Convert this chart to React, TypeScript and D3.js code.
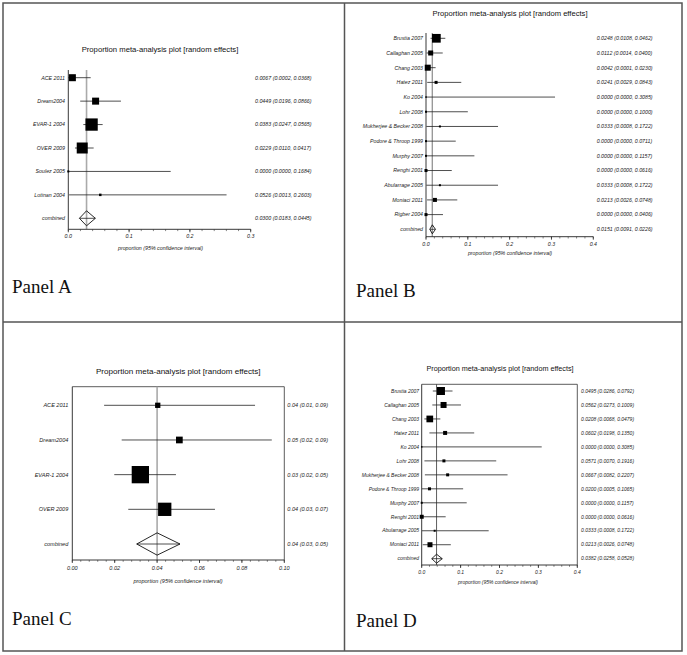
import React from "react";
import * as d3 from "d3";

// ---------- Panel A data ----------
const aStudies = ["ACE 2011", "Dream2004", "EVAR-1 2004", "OVER 2009", "Soulez 2005", "Lotinan 2004"];
const aEst = [0.0067, 0.0449, 0.0383, 0.0229, 0.0, 0.0526];
const aLo = [0.0002, 0.0196, 0.0247, 0.011, 0.0, 0.0013];
const aHi = [0.0368, 0.0866, 0.0565, 0.0417, 0.1684, 0.2603];
const aWeight = [12.9, 12.9, 39.8, 31.8, 1.1, 1.6];
const aText = [
  "0.0067 (0.0002, 0.0368)",
  "0.0449 (0.0196, 0.0866)",
  "0.0383 (0.0247, 0.0565)",
  "0.0229 (0.0110, 0.0417)",
  "0.0000 (0.0000, 0.1684)",
  "0.0526 (0.0013, 0.2603)",
];
const aCombined = [0.03, 0.0183, 0.0445];
const aCombinedText = "0.0300 (0.0183, 0.0445)";
const aTicks = [0, 0.1, 0.2, 0.3];

// ---------- Panel B data ----------
const bStudies = [
  "Brustia 2007", "Callaghan 2005", "Chang 2003", "Hatez 2011", "Ko 2004", "Lohr 2008",
  "Mukherjee & Becker 2008", "Podore & Throop 1999", "Murphy 2007", "Renghi 2001",
  "Abularrage 2005", "Moniaci 2011", "Rigber 2004",
];
const bEst = [0.0248, 0.0112, 0.0042, 0.0241, 0, 0, 0.0333, 0, 0, 0, 0.0333, 0.0213, 0];
const bLo = [0.0108, 0.0014, 0.0001, 0.0029, 0, 0, 0.0008, 0, 0, 0, 0.0008, 0.0026, 0];
const bHi = [0.0462, 0.04, 0.023, 0.0843, 0.3085, 0.1, 0.1722, 0.0711, 0.1157, 0.0616, 0.1722, 0.0748, 0.0406];
const bWeight = [37.7, 12.5, 18, 4.5, 0.5, 2, 2, 2, 2, 4.5, 2, 8, 4.5];
const bText = [
  "0.0248 (0.0108, 0.0462)",
  "0.0112 (0.0014, 0.0400)",
  "0.0042 (0.0001, 0.0230)",
  "0.0241 (0.0029, 0.0843)",
  "0.0000 (0.0000, 0.3085)",
  "0.0000 (0.0000, 0.1000)",
  "0.0333 (0.0008, 0.1722)",
  "0.0000 (0.0000, 0.0711)",
  "0.0000 (0.0000, 0.1157)",
  "0.0000 (0.0000, 0.0616)",
  "0.0333 (0.0008, 0.1722)",
  "0.0213 (0.0026, 0.0748)",
  "0.0000 (0.0000, 0.0406)",
];
const bCombined = [0.0151, 0.0091, 0.0226];
const bCombinedText = "0.0151 (0.0091, 0.0226)";
const bTicks = [0, 0.1, 0.2, 0.3, 0.4];

// ---------- Panel C data ----------
const cStudies = ["ACE 2011", "Dream2004", "EVAR-1 2004", "OVER 2009"];
const cEst = [0.0403, 0.0505, 0.0321, 0.0436];
const cLo = [0.015, 0.0233, 0.0198, 0.0264];
const cHi = [0.0862, 0.0941, 0.0489, 0.0673];
const cWeight = [5.1, 8.2, 54.5, 32.2];
const cText = ["0.04 (0.01, 0.09)", "0.05 (0.02, 0.09)", "0.03 (0.02, 0.05)", "0.04 (0.03, 0.07)"];
const cCombined = [0.04, 0.0304, 0.0508];
const cCombinedText = "0.04 (0.03, 0.05)";
const cTicks = [0, 0.02, 0.04, 0.06, 0.08, 0.1];

// ---------- Panel D data ----------
const dStudies = [
  "Brustia 2007", "Callaghan 2005", "Chang 2003", "Hatez 2011", "Ko 2004", "Lohr 2008",
  "Mukherjee & Becker 2008", "Podore & Throop 1999", "Murphy 2007", "Renghi 2001",
  "Abularrage 2005", "Moniaci 2011",
];
const dEst = [0.0495, 0.0562, 0.0208, 0.0602, 0, 0.0571, 0.0667, 0.02, 0, 0, 0.0333, 0.0213];
const dLo = [0.0286, 0.0273, 0.0068, 0.0198, 0, 0.007, 0.0082, 0.0005, 0, 0, 0.0008, 0.0026];
const dHi = [0.0792, 0.1009, 0.0479, 0.135, 0.3085, 0.1916, 0.2207, 0.1065, 0.1157, 0.0616, 0.1722, 0.0748];
const dWeight = [26.9, 15.1, 18.9, 6.7, 0.4, 3.8, 3.8, 3.8, 1.7, 6.7, 1.7, 10.5];
const dText = [
  "0.0495 (0.0286, 0.0792)",
  "0.0562 (0.0273, 0.1009)",
  "0.0208 (0.0068, 0.0479)",
  "0.0602 (0.0198, 0.1350)",
  "0.0000 (0.0000, 0.3085)",
  "0.0571 (0.0070, 0.1916)",
  "0.0667 (0.0082, 0.2207)",
  "0.0200 (0.0005, 0.1065)",
  "0.0000 (0.0000, 0.1157)",
  "0.0000 (0.0000, 0.0616)",
  "0.0333 (0.0008, 0.1722)",
  "0.0213 (0.0026, 0.0748)",
];
const dCombined = [0.0382, 0.0258, 0.0528];
const dCombinedText = "0.0382 (0.0258, 0.0528)";
const dTicks = [0, 0.1, 0.2, 0.3, 0.4];

const TITLE = "Proportion meta-analysis plot [random effects]";
const AXIS_TITLE = "proportion (95% confidence interval)";
const SANS = "'Liberation Sans', Arial, Helvetica, sans-serif";
const SERIF = "'Liberation Serif', 'Times New Roman', serif";

type PanelProps = {
  studies: string[];
  est: number[];
  lo: number[];
  hi: number[];
  weight: number[];
  text: string[];
  combined: number[];
  combinedText: string;
  ticks: number[];
  tickFmt: string;
  label: string;
  cfg: {
    xLeft: number; xRight: number; rowTop: number; rowBottom: number; axisY: number; axisTop: number;
    labelX: number; textX: number; titleX: number; titleY: number; axisTitleX: number; axisTitleY: number;
    tickLabelY: number; frame: boolean; maxBox: number; diamondH: number; fs: number;
    refColor: string; refWidth: number; panelX: number; panelY: number;
  };
};

function ForestPanel(p: PanelProps) {
  const c = p.cfg;
  const domainMax = p.ticks[p.ticks.length - 1];
  const x = d3.scaleLinear().domain([0, domainMax]).range([c.xLeft, c.xRight]);
  const rows = [...p.studies, "combined"];
  const y = d3.scalePoint<string>().domain(rows).range([c.rowTop, c.rowBottom]);
  const size = d3.scaleSqrt().domain([0, d3.max(p.weight) as number]).range([0, c.maxBox]);
  const fmt = d3.format(p.tickFmt);
  const step = p.ticks[1] - p.ticks[0];
  const minor = d3.range(0, domainMax + step / 10, step / 5);
  const small = 5.3 * c.fs;
  const cy = y("combined") as number;
  const [ce, cl, ch] = p.combined;
  const hh = c.diamondH / 2;
  return (
    <g>
      <text x={c.titleX} y={c.titleY} textAnchor="middle" fontFamily={SANS} fontSize={7.7 * c.fs} fill="#111">
        {TITLE}
      </text>
      {c.frame && (
        <path
          d={`M${c.xLeft},${c.axisTop}H${c.xRight}V${c.axisY}`}
          fill="none"
          stroke="#333"
          strokeWidth={0.8}
        />
      )}
      {/* reference line at combined estimate */}
      <line x1={x(ce)} x2={x(ce)} y1={c.axisTop} y2={c.axisY} stroke={c.refColor} strokeWidth={c.refWidth} />
      {/* axes */}
      <line x1={c.xLeft} x2={c.xLeft} y1={c.axisTop} y2={c.axisY} stroke="#222" strokeWidth={0.9} />
      <line x1={c.xLeft} x2={c.xRight} y1={c.axisY} y2={c.axisY} stroke="#222" strokeWidth={0.9} />
      {minor.map((t, i) => (
        <line key={"m" + i} x1={x(t)} x2={x(t)} y1={c.axisY} y2={c.axisY + 1.8} stroke="#333" strokeWidth={0.6} />
      ))}
      {p.ticks.map((t, i) => (
        <g key={"t" + i}>
          <line x1={x(t)} x2={x(t)} y1={c.axisY} y2={c.axisY + 3} stroke="#222" strokeWidth={0.8} />
          <text x={x(t)} y={c.tickLabelY} textAnchor="middle" fontFamily={SANS} fontStyle="italic" fontSize={small} fill="#222">
            {fmt(t)}
          </text>
        </g>
      ))}
      <text x={c.axisTitleX} y={c.axisTitleY} textAnchor="middle" fontFamily={SANS} fontStyle="italic" fontSize={small} fill="#222">
        {AXIS_TITLE}
      </text>
      {/* studies */}
      {p.studies.map((s, i) => {
        const yy = y(s) as number;
        const b = Math.max(size(p.weight[i]), 1.5);
        return (
          <g key={s}>
            <text x={c.labelX} y={yy} dy="0.35em" textAnchor="end" fontFamily={SANS} fontStyle="italic" fontSize={small} fill="#222">
              {s}
            </text>
            <line x1={x(p.lo[i])} x2={x(p.hi[i])} y1={yy} y2={yy} stroke="#222" strokeWidth={0.8} />
            <rect x={x(p.est[i]) - b / 2} y={yy - b / 2} width={b} height={b} fill="#000" />
            <text x={c.textX} y={yy} dy="0.35em" fontFamily={SANS} fontStyle="italic" fontSize={small} fill="#222">
              {p.text[i]}
            </text>
          </g>
        );
      })}
      {/* combined */}
      <text x={c.labelX} y={cy} dy="0.35em" textAnchor="end" fontFamily={SANS} fontStyle="italic" fontSize={small} fill="#222">
        combined
      </text>
      <line x1={x(cl)} x2={x(ch)} y1={cy} y2={cy} stroke="#222" strokeWidth={0.8} />
      <path
        d={`M${x(cl)},${cy}L${x(ce)},${cy - hh}L${x(ch)},${cy}L${x(ce)},${cy + hh}Z`}
        fill="none"
        stroke="#111"
        strokeWidth={0.9}
      />
      <text x={c.textX} y={cy} dy="0.35em" fontFamily={SANS} fontStyle="italic" fontSize={small} fill="#222">
        {p.combinedText}
      </text>
      <text x={c.panelX} y={c.panelY} fontFamily={SERIF} fontSize={19} fill="#111">
        {p.label}
      </text>
    </g>
  );
}

export default function App() {
  return (
    <svg
      width={687}
      height={655}
      style={{ position: "absolute", left: 0, top: 0, background: "#fff" }}
    >
      <rect x={0} y={0} width={687} height={655} fill="#fff" />
      {/* table frame */}
      <rect x={3} y={3} width={679} height={648} fill="none" stroke="#555" strokeWidth={1.5} />
      <line x1={344.5} x2={344.5} y1={3} y2={651} stroke="#555" strokeWidth={1.5} />
      <line x1={3} x2={682} y1={322} y2={322} stroke="#555" strokeWidth={1.5} />

      <ForestPanel
        studies={aStudies} est={aEst} lo={aLo} hi={aHi} weight={aWeight} text={aText}
        combined={aCombined} combinedText={aCombinedText} ticks={aTicks} tickFmt=".1f" label="Panel A"
        cfg={{
          xLeft: 68.3, xRight: 250.7, rowTop: 77.7, rowBottom: 218.3, axisY: 229.3, axisTop: 70,
          labelX: 65, textX: 255, titleX: 160, titleY: 52, axisTitleX: 160.5, axisTitleY: 249.5,
          tickLabelY: 237.5, frame: false, maxBox: 12.3, diamondH: 15, fs: 1,
          refColor: "#aaa", refWidth: 1.6, panelX: 12, panelY: 293,
        }}
      />
      <ForestPanel
        studies={bStudies} est={bEst} lo={bLo} hi={bHi} weight={bWeight} text={bText}
        combined={bCombined} combinedText={bCombinedText} ticks={bTicks} tickFmt=".1f" label="Panel B"
        cfg={{
          xLeft: 426, xRight: 593.3, rowTop: 38.3, rowBottom: 229.3, axisY: 236.7, axisTop: 33,
          labelX: 423, textX: 596.7, titleX: 510, titleY: 16, axisTitleX: 510, axisTitleY: 255,
          tickLabelY: 246, frame: false, maxBox: 8.7, diamondH: 9, fs: 0.99,
          refColor: "#999", refWidth: 1.4, panelX: 356, panelY: 297,
        }}
      />
      <ForestPanel
        studies={cStudies} est={cEst} lo={cLo} hi={cHi} weight={cWeight} text={cText}
        combined={cCombined} combinedText={cCombinedText} ticks={cTicks} tickFmt=".2f" label="Panel C"
        cfg={{
          xLeft: 72.3, xRight: 284.3, rowTop: 405.3, rowBottom: 544, axisY: 560, axisTop: 386.7,
          labelX: 68.3, textX: 287.3, titleX: 178.3, titleY: 374, axisTitleX: 178, axisTitleY: 582.5,
          tickLabelY: 570, frame: true, maxBox: 17.3, diamondH: 22.3, fs: 1.05,
          refColor: "#aaa", refWidth: 1.6, panelX: 12, panelY: 625,
        }}
      />
      <ForestPanel
        studies={dStudies} est={dEst} lo={dLo} hi={dHi} weight={dWeight} text={dText}
        combined={dCombined} combinedText={dCombinedText} ticks={dTicks} tickFmt=".1f" label="Panel D"
        cfg={{
          xLeft: 421.7, xRight: 577.3, rowTop: 391, rowBottom: 558.7, axisY: 565, axisTop: 384.3,
          labelX: 419, textX: 581, titleX: 500, titleY: 370.5, axisTitleX: 498, axisTitleY: 583.5,
          tickLabelY: 574, frame: true, maxBox: 8, diamondH: 9, fs: 0.94,
          refColor: "#333", refWidth: 0.8, panelX: 356, panelY: 627,
        }}
      />
    </svg>
  );
}
